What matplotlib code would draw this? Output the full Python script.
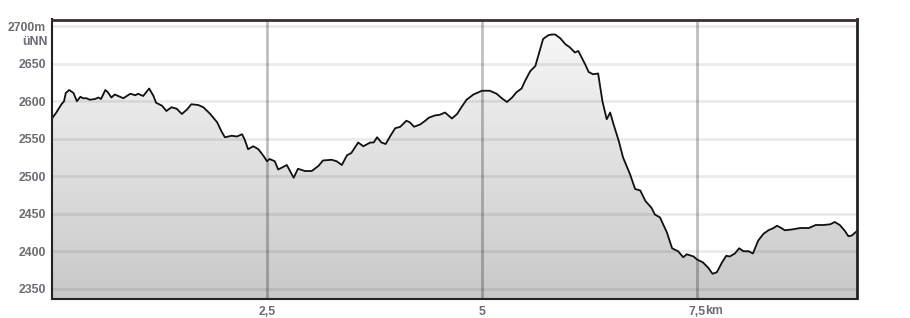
import numpy as np
import matplotlib
matplotlib.use("Agg")
import matplotlib.pyplot as plt
from matplotlib.colors import LinearSegmentedColormap
from matplotlib.patches import Polygon

# distance (km) and elevation (m)
dist_km = [0.00, 0.05, 0.11, 0.14, 0.16, 0.20, 0.25, 0.29, 0.33, 0.36, 0.40, 0.44, 0.50, 0.54,
           0.57, 0.62, 0.65, 0.69, 0.73, 0.83, 0.91, 0.97, 1.00, 1.06, 1.13, 1.18, 1.21, 1.28,
           1.33, 1.39, 1.45, 1.51, 1.57, 1.62, 1.70, 1.76, 1.84, 1.92, 1.97, 2.01, 2.09, 2.15,
           2.21, 2.24, 2.28, 2.34, 2.40, 2.46, 2.50, 2.53, 2.59, 2.63, 2.73, 2.81, 2.86, 2.94,
           3.02, 3.10, 3.15, 3.25, 3.31, 3.37, 3.43, 3.48, 3.56, 3.62, 3.70, 3.74, 3.78, 3.83,
           3.88, 3.93, 3.99, 4.05, 4.12, 4.16, 4.21, 4.28, 4.34, 4.38, 4.45, 4.51, 4.57, 4.65,
           4.71, 4.76, 4.82, 4.90, 5.00, 5.09, 5.17, 5.23, 5.29, 5.35, 5.40, 5.46, 5.50, 5.56,
           5.62, 5.67, 5.71, 5.77, 5.81, 5.85, 5.91, 5.97, 6.02, 6.08, 6.12, 6.16, 6.20, 6.24,
           6.29, 6.35, 6.40, 6.45, 6.49, 6.53, 6.59, 6.64, 6.72, 6.78, 6.84, 6.90, 6.97, 7.01,
           7.07, 7.15, 7.21, 7.28, 7.34, 7.38, 7.46, 7.50, 7.57, 7.63, 7.68, 7.73, 7.79, 7.84,
           7.88, 7.94, 7.99, 8.04, 8.10, 8.15, 8.21, 8.27, 8.33, 8.39, 8.43, 8.48, 8.52, 8.60,
           8.70, 8.80, 8.88, 8.97, 9.05, 9.10, 9.16, 9.22, 9.26, 9.30, 9.36]
elev_m = [2577, 2585, 2596, 2600, 2611, 2615, 2611, 2600, 2606, 2604, 2604, 2602, 2603, 2605,
          2603, 2615, 2612, 2605, 2609, 2604, 2610, 2608, 2610, 2607, 2617, 2607, 2598, 2594,
          2587, 2592, 2590, 2583, 2589, 2596, 2595, 2592, 2583, 2572, 2560, 2552, 2554, 2553,
          2556, 2549, 2536, 2540, 2536, 2527, 2520, 2523, 2520, 2509, 2515, 2498, 2510, 2507,
          2507, 2514, 2521, 2522, 2520, 2515, 2528, 2531, 2545, 2540, 2545, 2545, 2552, 2545,
          2543, 2553, 2564, 2566, 2574, 2572, 2566, 2569, 2574, 2578, 2581, 2582, 2585, 2577,
          2583, 2592, 2602, 2609, 2614, 2614, 2610, 2604, 2599, 2605, 2612, 2617, 2627, 2640,
          2647, 2667, 2683, 2688, 2689, 2689, 2684, 2676, 2672, 2665, 2667, 2658, 2649, 2639,
          2636, 2637, 2600, 2576, 2585, 2569, 2547, 2525, 2503, 2483, 2481, 2467, 2458, 2449,
          2445, 2425, 2404, 2400, 2392, 2396, 2393, 2389, 2385, 2378, 2370, 2372, 2385, 2394,
          2393, 2397, 2404, 2400, 2400, 2397, 2414, 2423, 2428, 2431, 2434, 2431, 2428, 2429,
          2431, 2431, 2435, 2435, 2436, 2439, 2435, 2427, 2420, 2421, 2427]

y_ticks = [2350, 2400, 2450, 2500, 2550, 2600, 2650, 2700]
y_ticklabels = ["2350", "2400", "2450", "2500", "2550", "2600", "2650", "2700m"]
x_ticks = [2.5, 5, 7.5]
x_ticklabels = ["2,5", "5", "7,5"]

FONT = ["Liberation Sans", "DejaVu Sans"]
TXT = "#6c6c76"

fig = plt.figure(figsize=(9.10, 3.18), dpi=100)
ax = fig.add_axes([52 / 910, 19.5 / 318, 805 / 910, 279 / 318])
xmin, xmax = 0, 9.36
ymin, ymax = 2337, 2709
ax.set_xlim(xmin, xmax)
ax.set_ylim(ymin, ymax)

# grid
for yv in y_ticks:
    ax.axhline(yv, color="black", alpha=0.08, lw=2.0, zorder=3)
for xv in x_ticks:
    ax.axvline(xv, color="black", alpha=0.25, lw=2.0, zorder=3)

# gradient fill under profile
xs = np.array(dist_km)
ys = np.array(elev_m)
poly_pts = np.column_stack([np.r_[xs, xs[-1], xs[0]], np.r_[ys, ymin, ymin]])
poly = Polygon(poly_pts, closed=True, facecolor="none", edgecolor="none")
ax.add_patch(poly)
cmap = LinearSegmentedColormap.from_list("g", ["#c8c8c8", "#f9f9f9"])
grad = np.linspace(0, 1, 256).reshape(-1, 1)
im = ax.imshow(grad, cmap=cmap, aspect="auto", origin="lower",
               extent=[xmin, xmax, ymin, ymax], zorder=1, interpolation="bicubic")
im.set_clip_path(poly)

ax.plot(xs, ys, color="#111111", lw=1.3, zorder=4, solid_joinstyle="round")

# spines
for side in ["left", "bottom"]:
    ax.spines[side].set_color("#222222")
    ax.spines[side].set_linewidth(1.5)
ax.spines["top"].set_color("#3b2d34")
ax.spines["top"].set_linewidth(2.0)
ax.spines["right"].set_color("#222222")
ax.spines["right"].set_linewidth(2.0)
for s in ax.spines.values():
    s.set_zorder(6)

ax.set_yticks(y_ticks)
ax.set_yticklabels(y_ticklabels)
ax.set_xticks(x_ticks)
ax.set_xticklabels(x_ticklabels)
ax.tick_params(axis="both", length=0, colors=TXT, labelsize=8.8)
ax.tick_params(axis="y", pad=4.5)
ax.tick_params(axis="x", pad=5.5)
for lab in ax.get_xticklabels() + ax.get_yticklabels():
    lab.set_fontfamily(FONT)
    lab.set_fontweight("bold")

# unit annotations
ax.annotate("üNN", xy=(0, 2700), xycoords="data", xytext=(-4.5 * 100 / 72 * 0.72, -16),
            textcoords="offset pixels", ha="right", va="center", color=TXT,
            fontsize=8.8, fontweight="bold", family=FONT, annotation_clip=False)
ax.annotate("km", xy=(7.5, ymin), xycoords="data", xytext=(8.5, -12.5),
            textcoords="offset pixels", ha="left", va="center", color=TXT,
            fontsize=8.8, fontweight="bold", family=FONT, annotation_clip=False)

fig.savefig("out.png", dpi=100, facecolor="white")
